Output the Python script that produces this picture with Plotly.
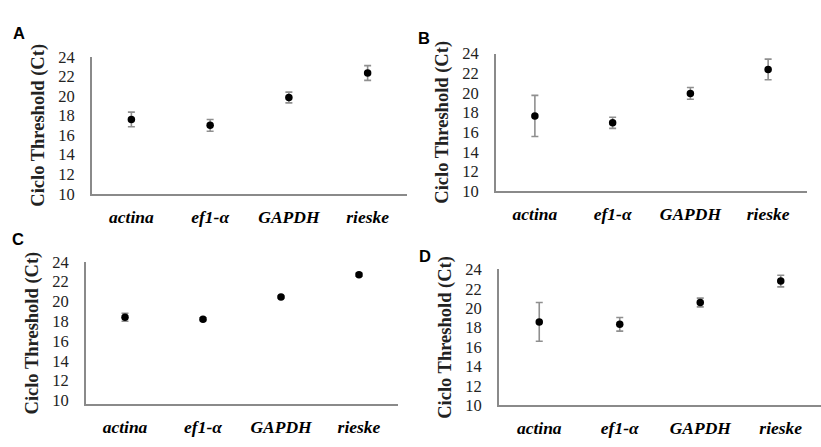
import plotly.graph_objects as go

genes = ["actina", "ef1-α", "GAPDH", "rieske"]
panel_labels = ["A", "B", "C", "D"]
ct_mean_A = [17.6, 17.0, 19.85, 22.35]
ct_err_A = [0.75, 0.6, 0.55, 0.75]
ct_mean_B = [17.65, 16.95, 19.95, 22.4]
ct_err_B = [2.1, 0.57, 0.6, 1.05]
ct_mean_C = [18.4, 18.2, 20.45, 22.7]
ct_err_C = [0.4, 0.15, 0.1, 0.15]
ct_mean_D = [18.6, 18.35, 20.6, 22.8]
ct_err_D = [2.0, 0.7, 0.45, 0.6]
y_ticks = [10, 12, 14, 16, 18, 20, 22, 24]
y_title = "Ciclo Threshold (Ct)"

W, H = 821, 447
# pixel boxes: (x_left, x_right, y_top(value 24), y_bottom(axis line))
boxes = [
    (92, 407, 50, 193, [10, 24]),
    (496, 807, 46.7, 190, [10, 24]),
    (86, 398, 264, 413, [9.6, 24]),
    (499, 821, 272, 414, [10, 24]),
]
letter_pos = [(19, 25), (424, 30), (18, 240), (425, 258)]

means = [ct_mean_A, ct_mean_B, ct_mean_C, ct_mean_D]
errs = [ct_err_A, ct_err_B, ct_err_C, ct_err_D]

fig = go.Figure()
axis_col = "#8a8a8a"
layout = {}
for i in range(4):
    sfx = "" if i == 0 else str(i + 1)
    fig.add_trace(go.Scatter(
        x=genes, y=means[i], mode="markers",
        marker=dict(color="black", size=7.5),
        error_y=dict(type="data", array=errs[i], color="#8f8f8f", thickness=1.6, width=3.5),
        xaxis="x" + sfx, yaxis="y" + sfx, showlegend=False,
    ))
    xl, xr, yt, yb, yr = boxes[i]
    layout["xaxis" + sfx] = dict(
        domain=[xl / W, min(xr / W, 1)], anchor="y" + sfx,
        type="category", range=[-0.5, 3.5],
        showline=True, linecolor=axis_col, linewidth=2,
        showgrid=False, zeroline=False, ticks="",
        ticklabelstandoff=6,
        tickfont=dict(family="Liberation Serif", size=17.5, color="black", weight="bold", style="italic"),
    )
    layout["yaxis" + sfx] = dict(
        domain=[1 - yb / H, 1 - yt / H], anchor="x" + sfx,
        range=yr, tickvals=y_ticks,
        showline=True, linecolor=axis_col, linewidth=2,
        showgrid=False, zeroline=False, ticks="",
        ticklabelstandoff=12,
        tickfont=dict(family="Liberation Serif", size=16.5, color="#222222"),
        title=dict(text=y_title, standoff=9,
                   font=dict(family="Liberation Serif", size=18.5, color="#222222", weight="bold")),
    )
    lx, ly = letter_pos[i]
    fig.add_annotation(text=panel_labels[i], x=lx / W, y=1 - ly / H, xref="paper", yref="paper",
                       showarrow=False, xanchor="center", yanchor="middle",
                       font=dict(family="Liberation Sans", size=16.5, color="black", weight="bold"))

fig.update_layout(**layout)
fig.update_layout(width=W, height=H, margin=dict(l=0, r=0, t=0, b=0),
                  plot_bgcolor="white", paper_bgcolor="white")
fig.write_html("out.html")
